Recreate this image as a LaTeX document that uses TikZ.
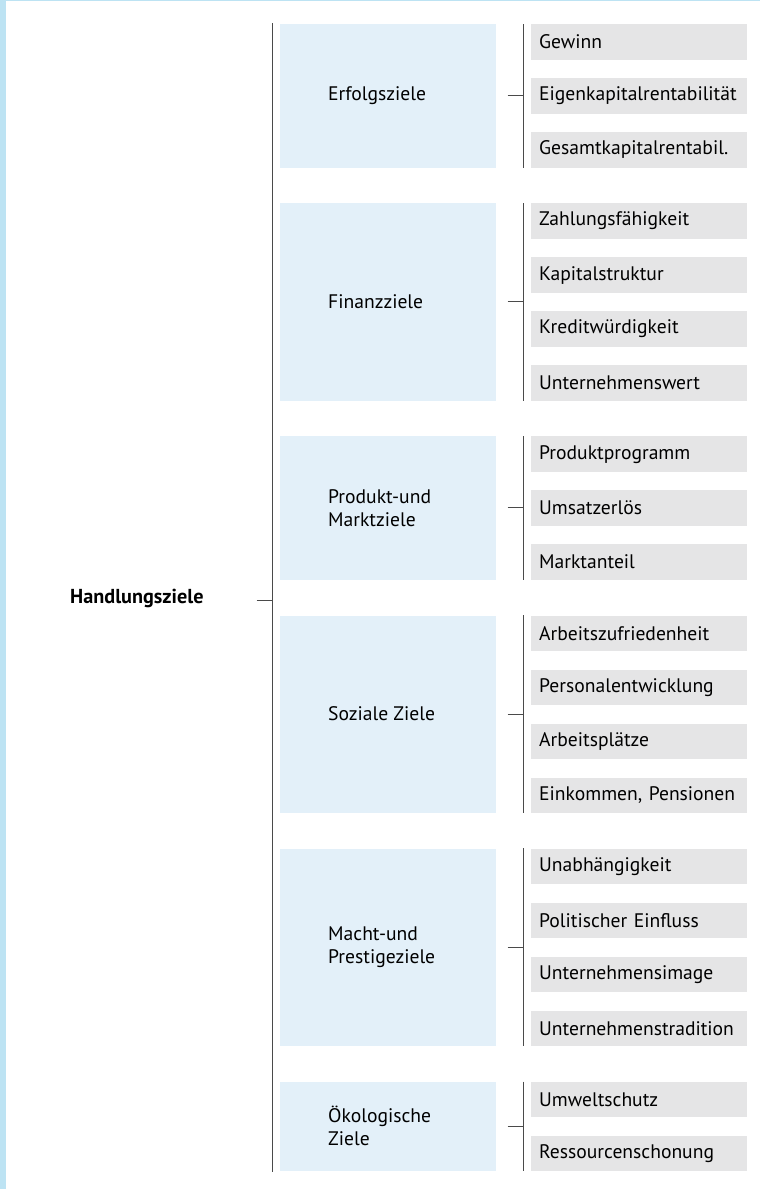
\documentclass[tikz,border=0pt]{standalone}
\usepackage{fontspec}
\setmainfont{PT Sans}
\definecolor{stripblue}{HTML}{BDE3F3}
\definecolor{catblue}{HTML}{E3F0F9}
\definecolor{itemgray}{HTML}{E5E5E6}
\definecolor{linegray}{HTML}{4A4A4A}

% One goal group: #1 name, #2 top edge, #3 number of items, #4 label, #5 items
\newcommand{\zielgruppe}[5]{%
  \pgfmathsetmacro{\zgh}{#3*35.5+(#3-1)*18.5}%
  \pgfmathsetmacro{\zgm}{#2+\zgh/2}%
  \pgfmathsetmacro{\zgb}{#2+\zgh}%
  \node[catbox, minimum height=\zgh pt] (#1) at (280,#2) {};
  \node[cattext] (#1t) at (328,\zgm) {#4};
  \foreach \t [count=\i] in {#5} {
    \pgfmathsetmacro{\iy}{#2+(\i-1)*54}
    \node[itembox] (#1i\i) at (531,\iy) {\t};
  }
  \coordinate (#1top) at (523.3,#2);
  \coordinate (#1bot) at (523.3,\zgb);
  \coordinate (#1mid) at (523.3,\zgm);
  \coordinate (#1tick) at (507.7,\zgm);
  \draw[branch] (#1top) -- (#1bot);
  \draw[branch] (#1tick) -- (#1mid);
}

\begin{document}
\begin{tikzpicture}[x=1pt,y=-1pt,
  catbox/.style={fill=catblue, minimum width=216pt, inner sep=0pt, anchor=north west},
  cattext/.style={anchor=west, align=left, inner sep=0pt, font=\fontsize{19.6}{23}\selectfont},
  itembox/.style={fill=itemgray, minimum width=216pt, minimum height=35.5pt,
    text width=200pt, inner xsep=8pt, inner ysep=0pt, align=left, anchor=north west,
    font=\fontsize{19.6}{23}\selectfont},
  branch/.style={draw=linegray, line width=1pt},
  trunk/.style={draw=linegray, line width=1.4pt}]

% page and coloured edge strips
\fill[white] (0,0) rectangle (760,1189);
\fill[stripblue] (0,0) rectangle (760,1.2);
\fill[stripblue] (0,0) rectangle (6,1189);
\useasboundingbox (0,0) rectangle (760,1189);

% root
\node[anchor=west, inner sep=0pt, font=\fontsize{20.2}{23}\selectfont\bfseries] (root) at (70,598) {Handlungsziele};
\coordinate (trunktop) at (272.7,23);
\coordinate (trunkbot) at (272.7,1172);
\coordinate (trunkmid) at (272.7,600);
\coordinate (roottick) at (256.7,600);
\draw[trunk] (trunktop) -- (trunkbot);
\draw[branch] (roottick) -- (trunkmid);

% goal groups
\zielgruppe{erfolg}{24}{3}{Erfolgsziele}{Gewinn, Eigenkapitalrentabilität, Gesamtkapitalrentabil.}
\zielgruppe{finanz}{203.1}{4}{Finanzziele}{Zahlungsfähigkeit, Kapitalstruktur, Kreditwürdigkeit, Unternehmenswert}
\zielgruppe{produkt}{436.2}{3}{Produkt-und\\Marktziele}{Produktprogramm, Umsatzerlös, Marktanteil}
\zielgruppe{sozial}{615.3}{4}{Soziale Ziele}{Arbeitszufriedenheit, Personalentwicklung, Arbeitsplätze, {Einkommen, Pensionen}}
\zielgruppe{macht}{848.4}{4}{Macht-und\\Prestigeziele}{Unabhängigkeit, Politischer Einfluss, Unternehmensimage, Unternehmenstradition}
\zielgruppe{oeko}{1081.5}{2}{Ökologische\\Ziele}{Umweltschutz, Ressourcenschonung}
\end{tikzpicture}
\end{document}
